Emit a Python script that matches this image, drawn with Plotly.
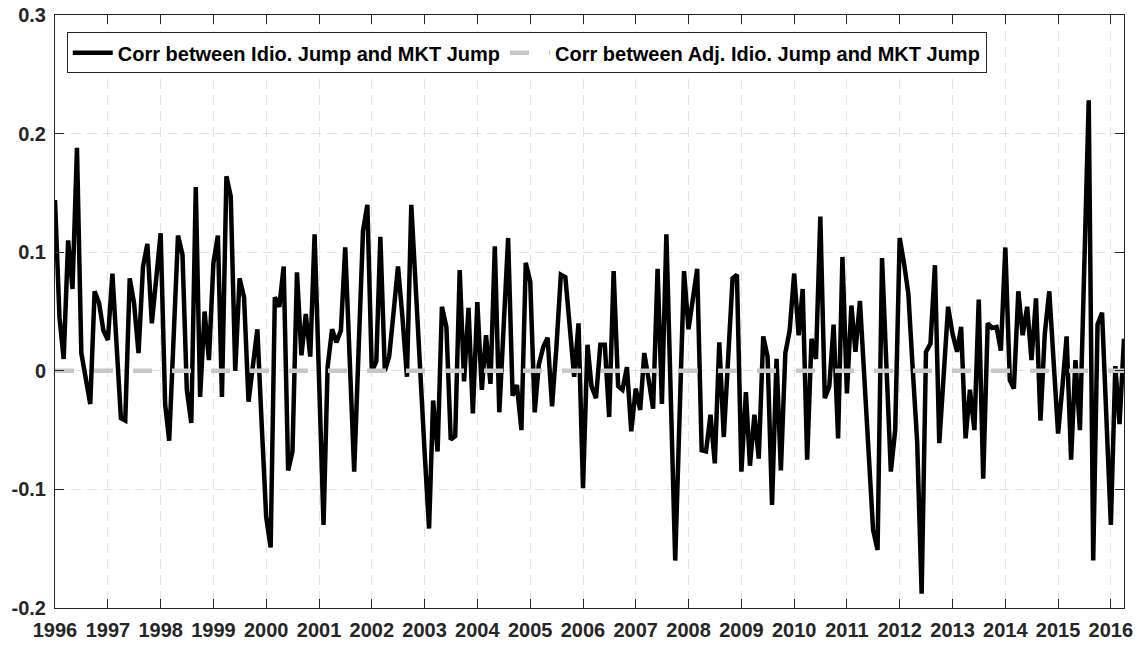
import pandas as pd
import plotly.graph_objects as go

# Monthly correlation of idiosyncratic jumps with market jumps, Jan 1996 - Apr 2016
corr_idio = [
    0.144, 0.045, 0.010, 0.110, 0.069, 0.188, 0.015, -0.007, -0.028, 0.067, 0.057, 0.034,
    0.026, 0.082, 0.020, -0.040, -0.042, 0.078, 0.057, 0.015, 0.088, 0.107, 0.040, 0.078,
    0.116, -0.028, -0.059, 0.029, 0.114, 0.098, -0.016, -0.044, 0.155, -0.022, 0.050, 0.009,
    0.091, 0.114, -0.022, 0.164, 0.147, 0.000, 0.078, 0.062, -0.026, 0.004, 0.035, -0.045,
    -0.123, -0.149, 0.062, 0.054, 0.088, -0.084, -0.068, 0.083, 0.013, 0.048, 0.012, 0.115,
    -0.010, -0.130, 0.003, 0.035, 0.024, 0.034, 0.104, -0.002, -0.085, 0.016, 0.118, 0.140,
    -0.001, 0.008, 0.113, 0.000, 0.012, 0.050, 0.088, 0.045, -0.005, 0.140, 0.065, 0.000,
    -0.068, -0.133, -0.025, -0.068, 0.054, 0.037, -0.058, -0.055, 0.085, -0.009, 0.053, -0.036,
    0.058, -0.016, 0.030, -0.011, 0.105, -0.035, 0.035, 0.112, -0.021, -0.012, -0.050, 0.091,
    0.075, -0.035, 0.005, 0.020, 0.028, -0.030, 0.020, 0.081, 0.079, 0.040, -0.005, 0.040,
    -0.099, 0.022, -0.013, -0.023, 0.022, 0.022, -0.039, 0.084, -0.013, -0.016, 0.003, -0.051,
    -0.015, -0.033, 0.015, -0.008, -0.032, 0.086, -0.028, 0.115, -0.022, -0.160, -0.035, 0.084,
    0.035, 0.060, 0.086, -0.067, -0.068, -0.037, -0.078, 0.024, -0.056, 0.010, 0.078, 0.081,
    -0.085, -0.018, -0.080, -0.037, -0.074, 0.029, 0.012, -0.113, 0.010, -0.084, 0.015, 0.034,
    0.082, 0.030, 0.069, -0.075, 0.027, 0.010, 0.130, -0.023, -0.013, 0.039, -0.057, 0.096,
    -0.019, 0.055, 0.016, 0.059, -0.005, -0.060, -0.134, -0.151, 0.095, 0.005, -0.085, -0.050,
    0.112, 0.090, 0.065, 0.000, -0.060, -0.188, 0.016, 0.023, 0.089, -0.061, 0.000, 0.054,
    0.031, 0.016, 0.037, -0.057, -0.016, -0.050, 0.060, -0.091, 0.040, 0.036, 0.037, 0.017,
    0.104, -0.008, -0.015, 0.067, 0.030, 0.054, 0.009, 0.061, -0.042, 0.031, 0.067, 0.005,
    -0.053, -0.012, 0.029, -0.075, 0.009, -0.050, 0.089, 0.228, -0.160, 0.039, 0.049, -0.040,
    -0.130, 0.004, -0.045, 0.027,
]
# Adjusted idiosyncratic jumps are uncorrelated with market jumps
corr_adj = [0.0] * len(corr_idio)

months = pd.date_range("1996-01-01", periods=len(corr_idio), freq="MS")

year_ticks = list(range(1996, 2017))
y_ticks = [-0.2, -0.1, 0, 0.1, 0.2, 0.3]
y_labels = ["-0.2", "-0.1", "0", "0.1", "0.2", "0.3"]

font_family = "Liberation Sans, Arial, Helvetica, sans-serif"
tick_font = dict(family=font_family, size=20, color="#262626", weight="bold")

fig = go.Figure()
fig.add_trace(go.Scatter(
    x=months, y=corr_idio, mode="lines",
    name="Corr between Idio. Jump and MKT Jump",
    line=dict(color="black", width=4.5),
))
fig.add_trace(go.Scatter(
    x=months, y=corr_adj, mode="lines",
    name="Corr between Adj. Idio. Jump and MKT Jump",
    line=dict(color="#c8c8c8", width=4.5, dash="19px,20px"),
))

axis_common = dict(
    showline=True, linecolor="#262626", linewidth=1, mirror="ticks",
    ticks="inside", ticklen=9, tickcolor="#262626", tickwidth=1,
    showgrid=True, gridcolor="#e3e3e3", gridwidth=1, griddash="10px,6px",
    zeroline=False, automargin=False,
    tickfont=tick_font,
)

fig.update_xaxes(
    **axis_common,
    type="date",
    range=["1996-01-01", months[-1].strftime("%Y-%m-%d")],
    tickvals=[pd.Timestamp(f"{y}-01-01") for y in year_ticks],
    ticktext=[str(y) for y in year_ticks],
    ticklabelstandoff=4,
)
fig.update_yaxes(
    **axis_common,
    range=[-0.2, 0.3],
    tickvals=y_ticks, ticktext=y_labels,
    ticklabelstandoff=4,
)

fig.update_layout(
    width=1141, height=654,
    margin=dict(l=55, r=17, t=15, b=46, pad=0),
    paper_bgcolor="white", plot_bgcolor="white",
    font=dict(family=font_family, color="#262626"),
    showlegend=True,
    legend=dict(
        orientation="h",
        x=0.011, y=0.971, xanchor="left", yanchor="top",
        bgcolor="white", bordercolor="#262626", borderwidth=1,
        font=dict(family=font_family, size=20, color="black", weight="bold"),
        itemwidth=40, tracegroupgap=0,
    ),
)

fig.write_html("out.html")
